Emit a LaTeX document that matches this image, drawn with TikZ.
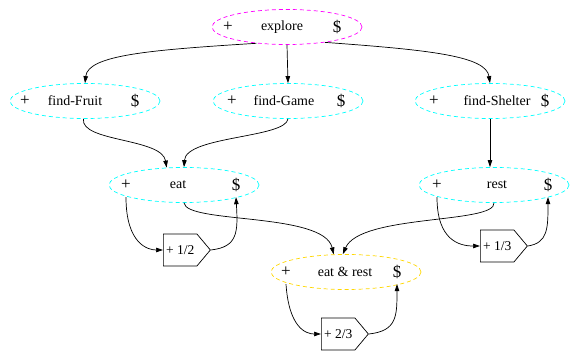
\documentclass[tikz,border=0pt]{standalone}
\usepackage{fontspec}
\setmainfont{Liberation Serif}
\usepackage{tikz}
\usetikzlibrary{arrows.meta,shapes.geometric,shapes.symbols}
\definecolor{aqua}{RGB}{0,255,255}
\definecolor{fuchsia}{RGB}{255,0,255}
\definecolor{gold}{RGB}{255,215,0}

\tikzset{
	goal/.style={ellipse, draw, dash pattern=on 4pt off 3pt, line width=0.7pt, minimum width=150pt, minimum height=35pt, inner sep=0pt},
	label text/.style={inner sep=0pt, minimum height=24pt, font=\fontsize{14}{16}\selectfont},
	field/.style={inner sep=0pt, minimum height=24pt, font=\fontsize{17}{19}\selectfont},
	bonus/.style={signal, signal to=east, signal pointer angle=100, draw, line width=0.7pt, anchor=west, minimum width=47pt, minimum height=32pt, inner sep=1.5pt, font=\fontsize{13.5}{15}\selectfont},
	arc/.style={-{Triangle[length=7pt,width=4.5pt]}, line width=0.7pt},
}

\begin{document}
\begin{tikzpicture}[x=1pt, y=-1pt]
	\useasboundingbox (0,0) rectangle (571,352);

		% Nodos
		\node[goal, fuchsia] (explore) at (287,27) {};
		\node[label text] (exploreT) at (282,27) {explore};
		\node[field] (exploreP) at (228,27) {+};
		\node[field] (exploreD) at (337,27) {\$};

		\node[goal, aqua] (fruit) at (85,101) {};
		\node[label text] (fruitT) at (75,101) {find-Fruit};
		\node[field] (fruitP) at (25,101) {+};
		\node[field] (fruitD) at (135,101) {\$};

		\node[goal, aqua] (game) at (288,101) {};
		\node[label text] (gameT) at (284,101) {find-Game};
		\node[field] (gameP) at (232,101) {+};
		\node[field] (gameD) at (341,101) {\$};

		\node[goal, aqua] (shelter) at (490,101) {};
		\node[label text] (shelterT) at (497,101) {find-Shelter};
		\node[field] (shelterP) at (434,101) {+};
		\node[field] (shelterD) at (545,101) {\$};

		\node[goal, aqua] (eat) at (184,185) {};
		\node[label text] (eatT) at (178,185) {eat};
		\node[field] (eatP) at (126,185) {+};
		\node[field] (eatD) at (236,185) {\$};

		\node[goal, aqua] (rest) at (494,185) {};
		\node[label text] (restT) at (497,185) {rest};
		\node[field] (restP) at (437,185) {+};
		\node[field] (restD) at (548,185) {\$};

		\node[goal, gold] (eatrest) at (346,272) {};
		\node[label text] (eatrestT) at (345,272) {eat \& rest};
		\node[field] (eatrestP) at (286,272) {+};
		\node[field] (eatrestD) at (397,272) {\$};

		\node[bonus] (half) at (163,250) {+ 1/2};
		\node[bonus] (third) at (480,246) {+ 1/3};
		\node[bonus] (twothirds) at (321,334) {+ 2/3};

		% Aristas
		\draw[arc] (explore.208) .. controls (150,50) and (88,55) .. (fruit.north);
		\draw[arc] (explore.south) -- (game.north);
		\draw[arc] (explore.338) .. controls (430,50) and (486,56) .. (shelter.north);
		\draw[arc] (fruit.265) .. controls (80,142) and (162,138) .. (eat.135);
		\draw[arc] (game.south) .. controls (286,138) and (186,136) .. (eat.north);
		\draw[arc] (shelter.south) -- (shelter.south |- rest.north);
		\draw[arc] (eat.south) .. controls (186,224) and (324,212) .. (eatrest.125);
		\draw[arc] (rest.south) .. controls (496,224) and (360,214) .. (eatrest.100);

		\draw[arc] (eatP.south) .. controls (126,244) and (148,250) .. (half.west);
		\draw[arc] (half.east) .. controls (238,247) and (238,232) .. (eatD.south);
		\draw[arc] (restP.south) .. controls (437,240) and (459,246) .. (third.west);
		\draw[arc] (third.east) .. controls (548,243) and (548,228) .. (restD.south);
		\draw[arc] (eatrestP.south) .. controls (289,328) and (306,334) .. (twothirds.west);
		\draw[arc] (twothirds.east) .. controls (397,331) and (397,316) .. (eatrestD.south);

	\end{tikzpicture}
\end{document}
